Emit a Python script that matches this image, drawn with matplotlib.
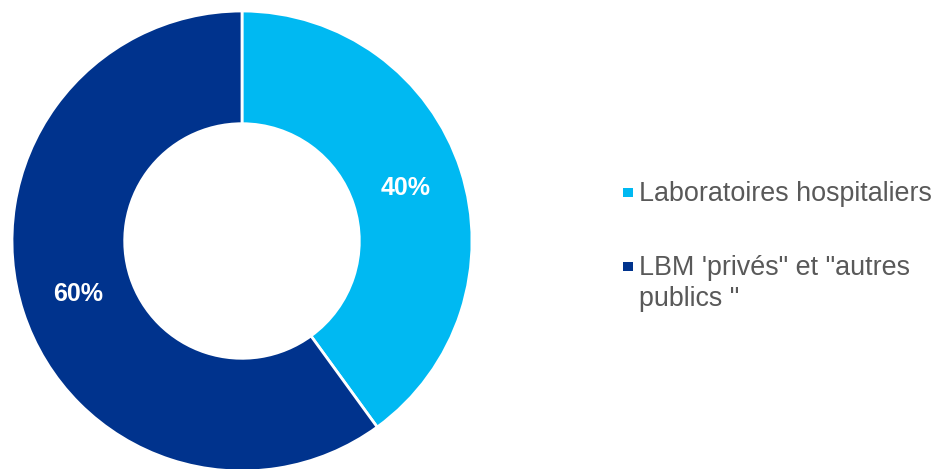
import matplotlib.pyplot as plt
from matplotlib.patches import Rectangle

# data
labels = ['Laboratoires hospitaliers', 'LBM \'privés" et "autres\npublics "']
shares = [40, 60]
colors = ['#00B9F2', '#00338D']

plt.rcParams['font.family'] = ['Liberation Sans', 'DejaVu Sans']

W, H = 939, 469
fig = plt.figure(figsize=(W / 100, H / 100), dpi=100)
# axes placed so the ring spans about 230 px radius around (242, 241)
ax = fig.add_axes([(242 - 230) / W, (228 - 230) / H, 460 / W, 460 / H])

wedges, texts, autotexts = ax.pie(
    shares, colors=colors, startangle=90, counterclock=False,
    radius=1, autopct='%d%%', pctdistance=0.75,
    wedgeprops=dict(width=0.49, edgecolor='white', linewidth=2),
    textprops=dict(color='white', fontsize=18, fontweight='bold'))
ax.set_xlim(-1, 1)
ax.set_ylim(-1, 1)
ax.set_aspect('equal')
ax.axis('off')

# legend drawn by hand: square marker aligned with first line of each label
baselines = [201, 275]   # px from top, first-line baseline of each entry
line_gap = 31
for lab, col, yb in zip(labels, colors, baselines):
    fig.add_artist(Rectangle(((623) / W, 1 - (yb - 4) / H), 10 / W, 9 / H,
                             transform=fig.transFigure, facecolor=col,
                             edgecolor='none'))
    for i, line in enumerate(lab.split('\n')):
        fig.text(639 / W, 1 - (yb + i * line_gap) / H, line, fontsize=19.4,
                 color='#595959', ha='left', va='baseline')

fig.savefig('out.png', dpi=100)
